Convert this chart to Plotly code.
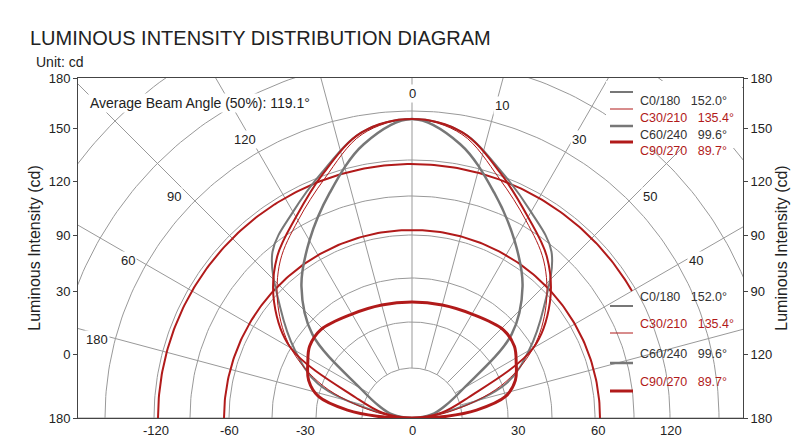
import numpy as np
import plotly.graph_objects as go

# ---- data (angle from vertical in degrees, intensity on the chart's radial scale) ----
angles = [0, 10, 20, 30, 40, 50, 60, 70, 80, 90]
c0_180 = [299, 290, 262, 238, 217, 172, 135, 100, 35, 0]
c30_210 = [299, 288, 255, 228, 205, 175, 140, 95, 40, 0]
c60_240 = [299, 278, 240, 205, 172, 130, 60, 35, 20, 0]
c90_lobe = [299, 290, 260, 232, 210, 180, 140, 60, 30, 0]
small_angles = [0, 15, 30, 46, 55, 62, 70, 77, 83, 87, 90]
small_lobe = [116, 117, 120, 127, 125, 118, 110, 96, 65, 35, 0]
arc1_r, arc1_span = 254, (-90, 60)
arc2_r, arc2_span = 188, (-90, 90)
grid_radii = [50, 96, 140, 183, 222, 258, 307, 360, 420]
grid_angles = list(range(-90, 91, 15))
ang_labels = {0: "0", 16: "10", 31: "30", 47: "50", 61: "40", -31: "120", -47: "90", -61: "60", -76: "180"}
y_tickvals = [0, 64, 127, 183, 237, 290, 340]
y_left_text = ["180", "0", "30", "90", "120", "150", "180"]
y_right_text = ["180", "120", "90", "90", "120", "150", "180"]
x_tickvals = [-364, -256, -183, -107, 0, 106, 186, 259, 359]
x_text = ["-180", "-120", "-60", "-30", "0", "30", "60", "120", "180"]
legend_names = ["C0/180", "C30/210", "C60/240", "C90/270"]
legend_vals = ["152.0°", "135.4°", "99.6°", "89.7°"]

GRAY, RED, GRID = "#777777", "#b11a1a", "#999999"
L, R_, T, B = 70, 65, 70, 36
XMIN, XMAX = -334, 331
PW = 800 - L - R_

def px(xp):
    return (xp - L) / PW

def py(yp):
    return (446 - B - yp) / (446 - T - B)

def sym(a, r):
    a = np.array(a, float); r = np.array(r, float)
    aa = np.concatenate([-a[::-1], a[1:]]); rr = np.concatenate([r[::-1], r[1:]])
    return rr * np.sin(np.radians(aa)), rr * np.cos(np.radians(aa))

fig = go.Figure()
th = np.linspace(-90, 90, 181)
for R in grid_radii:
    fig.add_trace(go.Scatter(x=R*np.sin(np.radians(th)), y=R*np.cos(np.radians(th)), mode="lines",
                             line=dict(color=GRID, width=1), hoverinfo="skip"))
for a in grid_angles:
    fig.add_trace(go.Scatter(x=[50*np.sin(np.radians(a)), 500*np.sin(np.radians(a))],
                             y=[50*np.cos(np.radians(a)), 500*np.cos(np.radians(a))], mode="lines",
                             line=dict(color=GRID, width=1), hoverinfo="skip"))

def arc(R, span, w):
    t = np.linspace(span[0], span[1], 200)
    fig.add_trace(go.Scatter(x=R*np.sin(np.radians(t)), y=R*np.cos(np.radians(t)), mode="lines",
                             line=dict(color=RED, width=w), hoverinfo="skip"))

arc(arc1_r, arc1_span, 2)
arc(arc2_r, arc2_span, 2)
for (a, r, c, w) in [(angles, c0_180, GRAY, 2), (angles, c30_210, RED, 1),
                     (angles, c60_240, GRAY, 2.5), (angles, c90_lobe, RED, 2),
                     (small_angles, small_lobe, RED, 3)]:
    x, y = sym(a, r)
    fig.add_trace(go.Scatter(x=x, y=y, mode="lines", line=dict(color=c, width=w, shape="spline"), hoverinfo="skip"))

for a, t in ang_labels.items():
    fig.add_annotation(x=325*np.sin(np.radians(a)), y=325*np.cos(np.radians(a)), text=t, showarrow=False,
                       font=dict(size=13, color="#222"), bgcolor="white")

# bottom tick labels (outer ones lie beyond the frame)
for v, t in zip(x_tickvals, x_text):
    fig.add_annotation(x=v, y=0, yref="y", text=t, showarrow=False, yanchor="top", yshift=-3,
                       font=dict(size=13, color="#222"))

styles = [(GRAY, 2), (RED, 1), (GRAY, 2.5), (RED, 3)]
def legend_block(ys, box):
    if box:
        fig.add_shape(type="rect", xref="paper", yref="paper", x0=px(598), x1=px(734),
                      y0=py(140), y1=py(73), line=dict(width=0), fillcolor="white", layer="above")
    for i, yy in enumerate(ys):
        c, w = styles[i]
        fig.add_shape(type="line", xref="paper", yref="paper", x0=px(602), x1=px(625),
                      y0=py(yy), y1=py(yy), line=dict(color=c, width=w), layer="above")
        tc = "#333" if c == GRAY else RED
        fig.add_annotation(xref="paper", yref="paper", x=px(630), y=py(yy), xanchor="left",
                           text=f"{legend_names[i]}&nbsp;&nbsp;&nbsp;{legend_vals[i]}", showarrow=False,
                           font=dict(size=12.5, color=tc))

legend_block([84, 101, 118, 134], True)
legend_block([298, 325, 355, 383], False)

fig.add_annotation(xref="paper", yref="paper", x=px(80), y=py(85), xanchor="left",
                   text="Average Beam Angle (50%): 119.1°", showarrow=False, font=dict(size=14, color="#222"),
                   bgcolor="white")
fig.add_annotation(xref="paper", yref="paper", x=px(20), y=py(30), xanchor="left", yanchor="middle",
                   text="LUMINOUS INTENSITY DISTRIBUTION DIAGRAM", showarrow=False, font=dict(size=20, color="#222"))
fig.add_annotation(xref="paper", yref="paper", x=px(26), y=py(54), xanchor="left", yanchor="middle",
                   text="Unit: cd", showarrow=False, font=dict(size=14, color="#222"))

fig.add_trace(go.Scatter(x=[0], y=[-10], yaxis="y2", mode="markers", marker=dict(opacity=0), hoverinfo="skip"))

axfont = dict(family="Liberation Sans, Arial", size=13, color="#222")
fig.update_layout(
    width=800, height=446, showlegend=False, plot_bgcolor="white", paper_bgcolor="white",
    margin=dict(l=L, r=R_, t=T, b=B), font=dict(family="Liberation Sans, Arial"),
    xaxis=dict(range=[XMIN, XMAX], tickvals=x_tickvals, ticktext=[""]*len(x_tickvals), showgrid=False,
               zeroline=False, showline=True, mirror=True, linecolor="#444", ticks="", tickfont=axfont),
    yaxis=dict(range=[0, 340], tickvals=y_tickvals, ticktext=y_left_text, showgrid=False, zeroline=False,
               showline=True, mirror=True, linecolor="#444", ticks="outside", ticklen=4, tickfont=axfont,
               title=dict(text="Luminous Intensity (cd)", font=dict(size=16, color="#222"), standoff=4)),
    yaxis2=dict(range=[0, 340], overlaying="y", side="right", tickvals=y_tickvals, ticktext=y_right_text,
                showgrid=False, zeroline=False, ticks="outside", ticklen=4, tickfont=axfont,
                title=dict(text="Luminous Intensity (cd)", font=dict(size=16, color="#222"), standoff=4)),
)
fig.write_html("out.html")
